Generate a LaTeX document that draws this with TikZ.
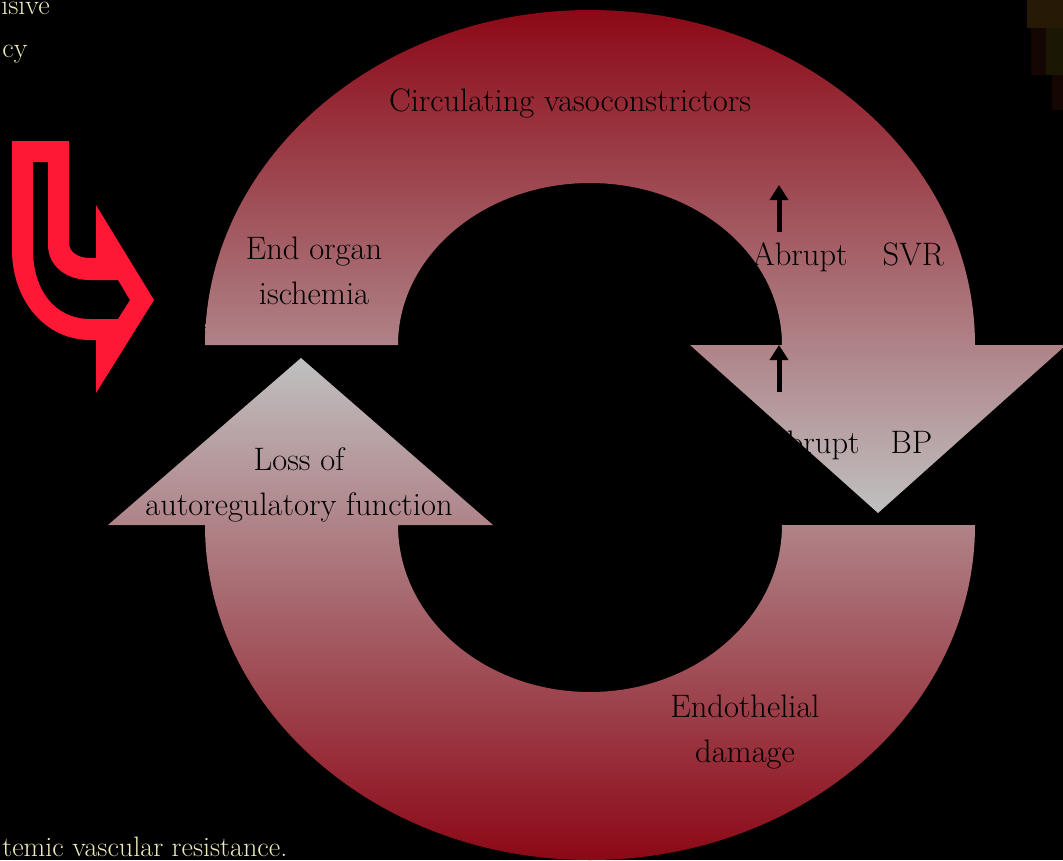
\documentclass[tikz,border=0pt]{standalone}
\usetikzlibrary{arrows.meta}

\definecolor{ringred}{RGB}{140,8,22}
\definecolor{ringmid}{RGB}{172,142,144}
\definecolor{ringgray}{RGB}{192,192,192}
\definecolor{hookred}{RGB}{255,24,54}
\definecolor{notecolor}{RGB}{238,234,186}
\definecolor{photoA}{RGB}{38,26,6}
\definecolor{photoB}{RGB}{22,6,3}
\definecolor{photoC}{RGB}{26,24,5}

\tikzset{
	cycletext/.style = {font = \fontsize{18.5}{25.6}\selectfont, text = black, align = center, inner sep = 0pt},
	notetext/.style = {font = \fontsize{16}{19}\selectfont, text = notecolor, inner sep = 0pt, anchor = base west},
	rise/.style = {line width = 0.1cm, -{Triangle[length = 0.3cm, width = 0.36cm]}}
}

\begin{document}
\begin{tikzpicture}[x = 0.02cm, y = -0.02cm]
	\fill[black] (0, 0) rectangle (1063, 860);
	\useasboundingbox (0, 0) rectangle (1063, 860);
	\clip (0, 0) rectangle (1063, 860);

	% bit of a photo in the corner
	\fill[photoA] (1027, 0) rectangle (1063, 28);
	\fill[photoB] (1031, 28) rectangle (1046, 75);
	\fill[photoC] (1046, 28) rectangle (1063, 75);
	\fill[photoB] (1052, 75) rectangle (1063, 110);

	% upper half of the cycle
	\shade[top color = ringred, middle color = ringmid, bottom color = ringgray] (205, 345) arc[start angle = 180, end angle = 360, x radius = 385, y radius = 335] -- (1066, 345) -- (878, 513) -- (690, 345) -- (782, 345) arc[start angle = 0, end angle = -180, x radius = 192, y radius = 162] -- cycle;

	% lower half of the cycle
	\shade[top color = ringgray, middle color = ringmid, bottom color = ringred] (205, 525) arc[start angle = 180, end angle = 0, x radius = 385, y radius = 335] -- (782, 525) arc[start angle = 0, end angle = 180, x radius = 192, y radius = 167] -- (493, 525) -- (301, 358) -- (108, 525) -- cycle;

	% red hook arrow
	\fill[hookred, even odd rule] (12, 141) -- (69, 141) -- (69, 243) .. controls (69, 252) and (78, 258) .. (90, 258) -- (96, 258) -- (96, 205) -- (154, 300) -- (96, 393) -- (96, 340) -- (90, 340) .. controls (45, 340) and (12, 300) .. (12, 250) -- cycle
		(33, 162) -- (48, 162) -- (48, 245) .. controls (48, 265) and (65, 280) .. (90, 280) -- (118, 280) -- (130, 300) -- (118, 319) -- (90, 319) .. controls (55, 319) and (33, 290) .. (33, 250) -- cycle;

	\node[cycletext, anchor = base] (vaso) at (570, 111) {Circulating vasoconstrictors};
	\node[cycletext, anchor = base] (ischemia) at (314, 304) {End organ\\ischemia};
	\node[cycletext, anchor = base] (autoreg) at (299, 515) {Loss of\\autoregulatory function};
	\node[cycletext, anchor = base] (endo) at (745, 762) {Endothelial\\damage};
	\node[cycletext, anchor = base west] (svr) at (752, 265) {Abrupt\hspace{0.7cm}SVR};
	\node[cycletext, anchor = base west] (bp) at (764, 453) {Abrupt\hspace{0.62cm}BP};

	\coordinate (svr tail) at (779, 232);
	\coordinate (svr tip) at (779, 185);
	\coordinate (bp tail) at (779, 392);
	\coordinate (bp tip) at (779, 345);
	\draw[rise] (svr tail) -- (svr tip);
	\draw[rise] (bp tail) -- (bp tip);

	\node[notetext] (note top) at (1, 14) {isive};
	\node[notetext] (note mid) at (2, 57) {cy};
	\node[notetext] (note foot) at (2, 856) {temic vascular resistance.};
\end{tikzpicture}
\end{document}
